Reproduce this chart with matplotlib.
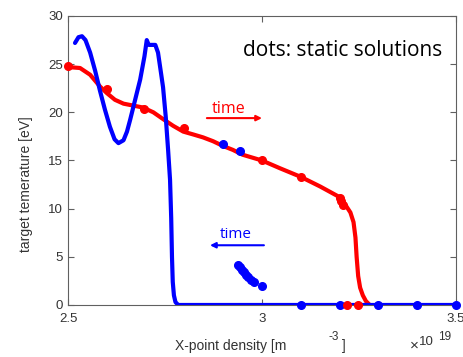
import numpy as np
import matplotlib.pyplot as plt

# dynamic solutions (lines)
red_x = [2.5, 2.531, 2.557, 2.582, 2.60, 2.621, 2.643, 2.668, 2.693, 2.72, 2.745, 2.771,
         2.797, 2.823, 2.848, 2.874, 2.90, 2.925, 2.95, 3.0, 3.046, 3.1, 3.15, 3.2, 3.215,
         3.228, 3.236, 3.241, 3.244, 3.248, 3.253, 3.26, 3.268, 3.278]
red_y = [24.7, 24.6, 23.9, 22.7, 22.0, 21.3, 20.9, 20.7, 20.5, 20.0, 19.3, 18.6,
         18.0, 17.7, 17.4, 17.0, 16.5, 16.1, 15.6, 15.0, 14.2, 13.3, 12.3, 11.2, 10.4,
         9.6, 8.6, 7.0, 5.0, 3.0, 1.8, 1.0, 0.4, 0.0]

blue_x = [2.518, 2.527, 2.536, 2.545, 2.557, 2.57, 2.582, 2.595, 2.608, 2.62, 2.63, 2.643,
          2.652, 2.66, 2.673, 2.686, 2.697, 2.703, 2.708, 2.716, 2.725, 2.732, 2.74, 2.745,
          2.752, 2.758, 2.763, 2.766, 2.768, 2.770, 2.773, 2.777, 2.784, 3.5]
blue_y = [27.2, 27.8, 27.9, 27.5, 26.2, 24.3, 22.3, 20.3, 18.5, 17.2, 16.8, 17.1,
          18.0, 19.2, 21.3, 23.4, 25.8, 27.5, 27.0, 27.0, 27.0, 26.2, 24.0, 22.6,
          19.5, 16.1, 13.0, 9.0, 5.0, 2.4, 1.0, 0.3, 0.0, 0.0]

# static solutions (dots)
red_dot_x = [2.5, 2.6, 2.695, 2.8, 3.0, 3.1, 3.2, 3.205, 3.21, 3.218, 3.248]
red_dot_y = [24.8, 22.4, 20.3, 18.4, 15.1, 13.3, 11.1, 10.8, 10.4, 0.0, 0.0]

blue_dot_x = [2.9, 2.943, 2.938, 2.943, 2.948, 2.953, 2.958, 2.965, 2.972, 2.98, 3.0,
              3.1, 3.2, 3.3, 3.4, 3.5]
blue_dot_y = [16.7, 16.0, 4.2, 3.9, 3.6, 3.4, 3.1, 2.9, 2.6, 2.4, 2.0,
              0.0, 0.0, 0.0, 0.0, 0.0]

fig = plt.figure(figsize=(4.64, 3.57), dpi=100)
ax = fig.add_axes([0.1466, 0.1457, 0.836, 0.8095])

ax.plot(red_x, red_y, color='red', lw=3, solid_capstyle='round', solid_joinstyle='round', zorder=2)
ax.plot(blue_x, blue_y, color='blue', lw=3, solid_capstyle='round', solid_joinstyle='round', zorder=3)
ax.plot(blue_dot_x, blue_dot_y, 'o', color='blue', ms=5.5, zorder=4, clip_on=False)
ax.plot(red_dot_x, red_dot_y, 'o', color='red', ms=5.5, zorder=5, clip_on=False)

ax.set_xlim(2.5, 3.5)
ax.set_ylim(0, 30)
ax.set_xticks([2.5, 3.0, 3.5])
ax.set_xticklabels(['2.5', '3', '3.5'])
ax.set_yticks([0, 5, 10, 15, 20, 25, 30])
ax.tick_params(direction='in', top=True, right=True, length=4, width=0.8,
               color='#606060', labelcolor='#333333', labelsize=9.5,
               labelfontfamily='Liberation Sans')
ax.tick_params(axis='x', pad=6)
for s in ax.spines.values():
    s.set_color('#606060')
    s.set_linewidth(0.8)

ax.set_ylabel('target temerature [eV]', fontsize=10, color='#333333',
              family='Liberation Sans')
ax.yaxis.set_label_coords(-0.09, 0.419)

# MATLAB-like broken xlabel
fig.text(0.378, 0.02, 'X-point density [m', fontsize=10, color='#333333',
         family='Liberation Sans', ha='left', va='baseline')
fig.text(0.707, 0.047, '-3', fontsize=8.5, color='#333333',
         family='Liberation Sans', ha='left', va='baseline')
fig.text(0.737, 0.02, ']', fontsize=10, color='#333333',
         family='Liberation Sans', ha='left', va='baseline')
fig.text(0.884, 0.022, '\u00d7', fontsize=11, color='#333333',
         family='Liberation Sans', ha='left', va='baseline')
fig.text(0.902, 0.034, '10', fontsize=9.5, color='#333333',
         family='Liberation Sans', ha='left', va='baseline')
fig.text(0.945, 0.047, '19', fontsize=8.5, color='#333333',
         family='Liberation Sans', ha='left', va='baseline')

ax.text(3.466, 25.8, 'dots: static solutions', fontsize=15, family='Open Sans',
        color='black', ha='right', va='baseline')

ax.text(2.915, 19.95, 'time', fontsize=11.5, family='Open Sans', color='red',
        ha='center', va='baseline')
ax.annotate('', xy=(3.0, 19.4), xytext=(2.858, 19.4),
            arrowprops=dict(arrowstyle='-|>', color='red', lw=1.5,
                            mutation_scale=8, shrinkA=0, shrinkB=0))
ax.text(2.933, 7.0, 'time', fontsize=11, family='Open Sans', color='blue',
        ha='center', va='baseline')
ax.annotate('', xy=(2.866, 6.2), xytext=(3.005, 6.2),
            arrowprops=dict(arrowstyle='-|>', color='blue', lw=1.5,
                            mutation_scale=8, shrinkA=0, shrinkB=0))

fig.savefig('out.png', dpi=100)
